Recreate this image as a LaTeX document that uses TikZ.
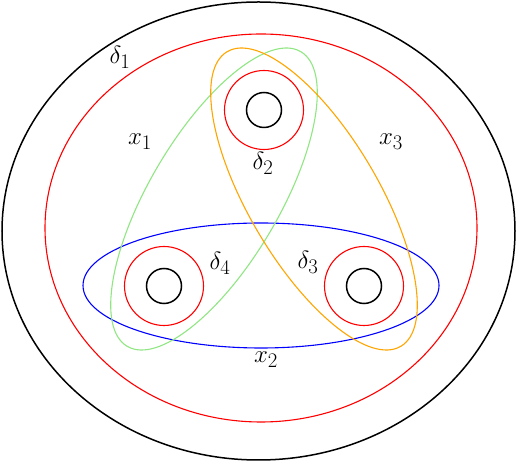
\documentclass[tikz,border=0pt]{standalone}
\usepackage{tikz}
\definecolor{lgreen}{RGB}{144,230,130}
\definecolor{orng}{RGB}{255,165,0}
\tikzset{
  blk/.style={draw=black,line width=1.5pt},
  col/.style={line width=1.1pt},
  lab/.style={font=\fontsize{28}{32}\selectfont,inner sep=0pt}
}
\begin{document}
\begin{tikzpicture}[x=1pt,y=1pt]
\useasboundingbox (0,0) rectangle (517,463);
% outer boundary
\draw[blk] (258.5,232) ellipse [x radius=256.5, y radius=229];
% big red curve delta1
\draw[col,red] (261,235) ellipse [x radius=216, y radius=194];
% holes
\coordinate (hT) at (264,353);
\coordinate (hL) at (164,177);
\coordinate (hR) at (364,177);
\foreach \h in {hT,hL,hR}{
  \draw[blk] (\h) circle [radius=17.5];
  \draw[col,red] (\h) circle [radius=39.5];
}
% x2 blue
\draw[col,blue] (261,177.5) ellipse [x radius=178, y radius=62.5];
% x1 green
\draw[col,lgreen,rotate around={59.5:(214,264)}] (214,264) ellipse [x radius=171, y radius=65];
% x3 orange
\draw[col,orng,rotate around={120.5:(314,264)}] (314,264) ellipse [x radius=171, y radius=65];
% labels
\node[lab] (d1) at (120,406) {$\delta_1$};
\node[lab] (x1) at (140,321) {$x_1$};
\node[lab] (d2) at (263,300) {$\delta_2$};
\node[lab] (x3) at (391,321) {$x_3$};
\node[lab] (d4) at (220,200) {$\delta_4$};
\node[lab] (d3) at (308,201) {$\delta_3$};
\node[lab] (x2) at (266,103) {$x_2$};
\end{tikzpicture}
\end{document}
